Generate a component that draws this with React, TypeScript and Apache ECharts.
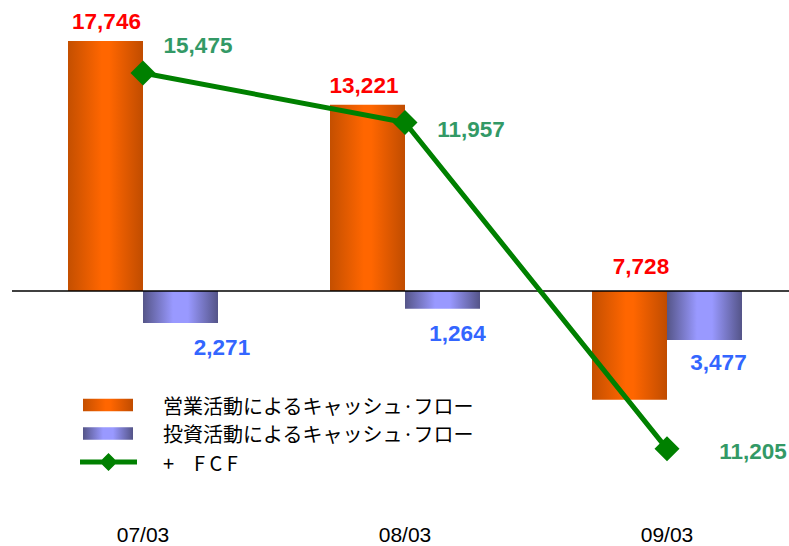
import React, { useEffect, useRef } from 'react';
import * as echarts from 'echarts';

const categories = ['07/03', '08/03', '09/03'];
const operatingCF = [17746, 13221, -7728];
const investingCF = [-2271, -1264, -3477];
const freeCF = [15475, 11957, -11205];
const seriesNames = ['営業活動によるキャッシュ·フロー', '投資活動によるキャッシュ·フロー', '+　F C F'];

const fmt = (v: number) => Math.abs(v).toLocaleString('en-US');

export default function App() {
  const ref = useRef<HTMLDivElement>(null);
  useEffect(() => {
    const chart = echarts.init(ref.current!, null, { renderer: 'svg' });
    const opOffsets = [[1, 0], [-3.5, 0], [11.5, -5]];
    const invOffsets = [[41.5, 0], [15, 0], [14, -2]];
    const fcfOffsets = [[55, -27.5], [66, 6.5], [86, 3]];
    const orange = new echarts.graphic.LinearGradient(0, 0, 1, 0, [
      { offset: 0, color: '#C44F00' },
      { offset: 0.45, color: '#FF6600' },
      { offset: 0.55, color: '#FF6600' },
      { offset: 1, color: '#C04C00' },
    ]);
    const blue = new echarts.graphic.LinearGradient(0, 0, 1, 0, [
      { offset: 0, color: '#555588' },
      { offset: 0.4, color: '#9999FF' },
      { offset: 0.6, color: '#9999FF' },
      { offset: 1, color: '#545488' },
    ]);
    const labelFont = {
      fontFamily: '"Liberation Sans", Arial, sans-serif',
      fontWeight: 'bold' as const,
      fontSize: 22.5,
    };
    const barIcon = 'path://M0,0 M57,18 M3,2.8 L53,2.8 L53,15.2 L3,15.2 Z';
    const lineIcon = 'path://M0,7.5 L57,7.5 L57,12.5 L0,12.5 Z M28.5,1 L37.5,10 L28.5,19 L19.5,10 Z';
    const option: any = {
      animation: false,
      backgroundColor: '#ffffff',
      grid: {
        left: 12,
        width: 786,
        top: 9.2,
        bottom: 43.7,
        containLabel: false,
        outerBoundsMode: 'none',
      },
      legend: {
        orient: 'vertical',
        left: 80,
        top: 395,
        padding: 0,
        itemWidth: 57,
        itemHeight: 18,
        itemGap: 8.5,
        selectedMode: false,
        data: [
          { name: seriesNames[0], icon: barIcon },
          { name: seriesNames[1], icon: barIcon },
          { name: seriesNames[2], icon: lineIcon, itemStyle: { borderWidth: 0 } },
        ],
        textStyle: {
          fontFamily: '"Noto Sans CJK JP", sans-serif',
          fontSize: 20,
          lineHeight: 20,
          color: '#000000',
          padding: [0, 0, 0, 21],
        },
      },
      xAxis: {
        type: 'category',
        data: categories,
        position: 'bottom',
        axisLine: { show: false, onZero: false },
        axisTick: { show: false },
        axisLabel: {
          margin: 24,
          fontFamily: '"Liberation Sans", Arial, sans-serif',
          fontSize: 21,
          lineHeight: 16,
          color: '#000000',
        },
      },
      yAxis: {
        type: 'value',
        min: -15000,
        max: 20000,
        show: false,
        splitLine: { show: false },
      },
      series: [
        {
          name: seriesNames[0],
          type: 'bar',
          barWidth: 75,
          barGap: '0%',
          itemStyle: { color: orange },
          data: operatingCF.map((v, i) => ({ value: v, label: { offset: opOffsets[i] } })),
          label: {
            show: true,
            position: 'top',
            distance: 7.5,
            color: '#FF0000',
            ...labelFont,
            formatter: (p: any) => fmt(p.value),
          },
          markLine: {
            silent: true,
            symbol: ['none', 'none'],
            label: { show: false },
            lineStyle: { color: '#000000', width: 1.6, type: 'solid' },
            data: [{ yAxis: 0 }],
            z: 5,
          },
        },
        {
          name: seriesNames[1],
          type: 'bar',
          barWidth: 75,
          barGap: '0%',
          itemStyle: { color: blue },
          data: investingCF.map((v, i) => ({ value: v, label: { offset: invOffsets[i] } })),
          label: {
            show: true,
            position: 'bottom',
            distance: 13.5,
            color: '#3366FF',
            ...labelFont,
            formatter: (p: any) => fmt(p.value),
          },
        },
        {
          name: seriesNames[2],
          type: 'line',
          symbol: 'diamond',
          symbolSize: 25,
          z: 10,
          lineStyle: { color: '#008000', width: 5 },
          itemStyle: { color: '#008000' },
          data: freeCF.map((v, i) => ({ value: v, label: { offset: fcfOffsets[i] } })),
          label: {
            show: true,
            position: 'inside',
            color: '#339966',
            ...labelFont,
            formatter: (p: any) => fmt(p.value),
          },
        },
      ],
    };
    chart.setOption(option);
    return () => chart.dispose();
  }, []);
  return (
    <div
      ref={ref}
      style={{ position: 'absolute', left: 0, top: 0, width: 789, height: 546 }}
    />
  );
}
